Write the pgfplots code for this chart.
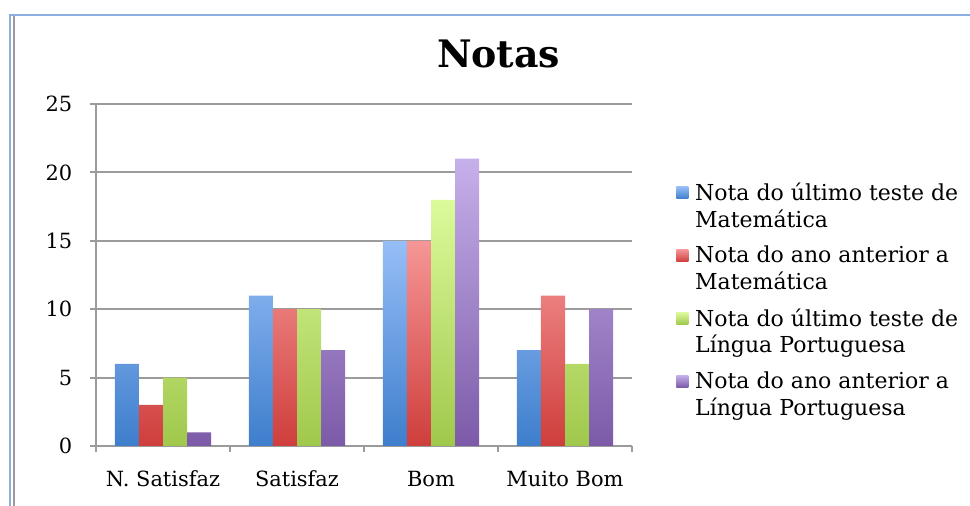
\documentclass[border=0pt]{standalone}
\usepackage{pgfplots}
\pgfplotsset{compat=1.18}
\usepackage{fontspec}
\setmainfont{DejaVu Serif}

\definecolor{blueT}{RGB}{150,190,247}
\definecolor{blueB}{RGB}{62,126,204}
\definecolor{redT}{RGB}{246,150,150}
\definecolor{redB}{RGB}{206,62,60}
\definecolor{greenT}{RGB}{220,250,155}
\definecolor{greenB}{RGB}{160,200,76}
\definecolor{purpT}{RGB}{198,176,234}
\definecolor{purpB}{RGB}{124,90,168}
\definecolor{axisgray}{RGB}{155,155,155}
\definecolor{frameblue}{RGB}{140,175,225}

\newcommand{\lab}{\fontsize{15.7}{19.5}\selectfont}
\newcommand{\leg}{\fontsize{16.5}{20}\selectfont}

\begin{document}
\begin{tikzpicture}
\useasboundingbox (0,0) rectangle (727.5pt,379.5pt);
% frame of the chart area
\draw[frameblue, line width=1.9pt] (7.5pt,-10pt) -- (7.5pt,368.25pt) -- (740pt,368.25pt);
\draw[axisgray, line width=1.5pt] (10.2pt,-10pt) -- (10.2pt,367.2pt);

\node[anchor=base, font=\bfseries\fontsize{28.4}{32}\selectfont] at (374pt,328.5pt) {Notas};

\begin{axis}[
  at={(72pt,45pt)}, anchor=south west,
  scale only axis, width=402pt, height=256.5pt,
  ybar=0pt, bar width=0.18,
  xmin=-0.5, xmax=3.5, ymin=0, ymax=25,
  xtick={0,1,2,3},
  xticklabels={N. Satisfaz,Satisfaz,Bom,Muito Bom},
  minor xtick={-0.5,0.5,1.5,2.5,3.5},
  ytick={0,5,10,15,20,25},
  axis x line*=bottom, axis y line*=left,
  axis line style={axisgray, line width=1.4pt},
  ymajorgrids, grid style={axisgray, line width=1.4pt},
  tick align=outside,
  major tick length=4.5pt, minor tick length=4.5pt,
  tick style={axisgray, line width=1.4pt},
  major x tick style={draw=none},
  tick label style={font=\lab},
  xticklabel style={yshift=-10.5pt, text height=11.5pt, text depth=0pt},
  yticklabel style={xshift=-9.75pt},
  /pgf/number format/assume math mode=true,
  legend style={draw=none, fill=none, at={(1.0825,0.778)}, anchor=north west,
    font=\leg, row sep=8.8pt, inner sep=0pt,
    cells={anchor=west, align=left}},
  legend image code/.code={%
    \path[#1] (0pt,5.5pt) rectangle (9pt,14.5pt);
    \path (0pt,-14.5pt) -- (12pt,-14.5pt);},
]
\addplot[draw=none, top color=blueT, bottom color=blueB] coordinates {(0,6) (1,11) (2,15) (3,7)};
\addplot[draw=none, top color=redT, bottom color=redB] coordinates {(0,3) (1,10) (2,15) (3,11)};
\addplot[draw=none, top color=greenT, bottom color=greenB] coordinates {(0,5) (1,10) (2,18) (3,6)};
\addplot[draw=none, top color=purpT, bottom color=purpB] coordinates {(0,1) (1,7) (2,21) (3,10)};
\legend{Nota do último teste de\\Matemática,
        Nota do ano anterior a\\Matemática,
        Nota do último teste de\\Língua Portuguesa,
        Nota do ano anterior a\\Língua Portuguesa}
\end{axis}
\end{tikzpicture}
\end{document}
